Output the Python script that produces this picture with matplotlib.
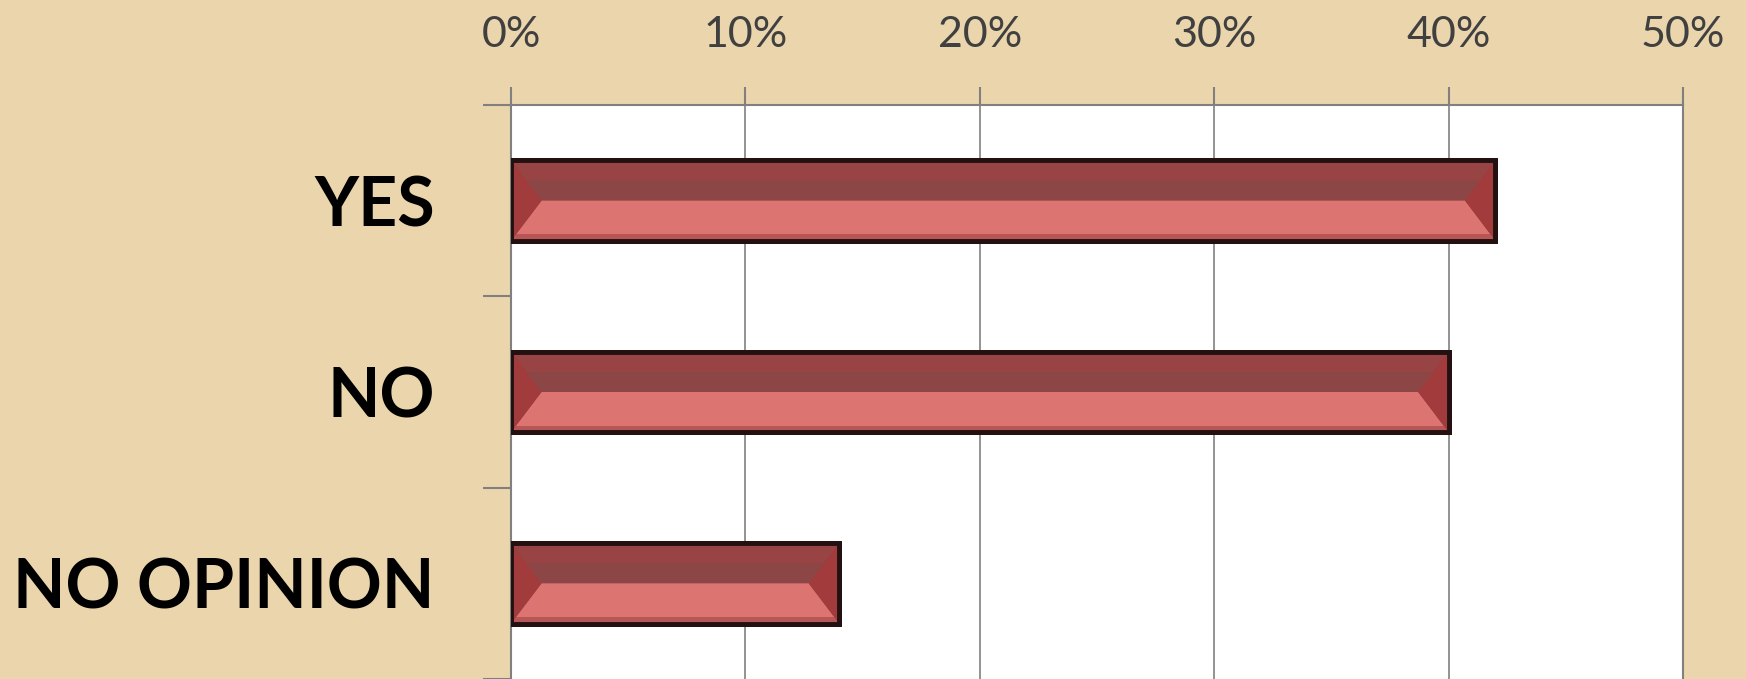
import numpy as np
import matplotlib
matplotlib.use("Agg")
import matplotlib.pyplot as plt
from matplotlib.patches import Polygon

categories = ["YES", "NO", "NO OPINION"]
values = [42, 40, 14]          # percent
xticks = [0, 10, 20, 30, 40, 50]

BG = "#EAD5AC"
DARK = "#8D4646"
TOPHI = "#984444"
LIGHT = "#DC7471"
SIDE = "#A23B3B"
EDGE = "#231010"

plt.rcParams["font.family"] = ["Lato", "DejaVu Sans"]

fig = plt.figure(figsize=(17.46, 6.79), dpi=100, facecolor=BG)
ax = fig.add_axes([0.2927, 0.0, 0.6712, 0.8454])
ax.set_facecolor("white")

h = 0.42
bw = 1.3   # bevel width in % units
for i, v in enumerate(values):
    y0, y1, ym = i - h / 2, i + h / 2, i
    ax.barh(i, v, height=h, color=DARK, edgecolor=EDGE, linewidth=3.5, zorder=3)
    # upper face, slightly lighter near the top edge
    ax.add_patch(Polygon([(0, y0), (v, y0), (v - bw * 0.5, y0 + h * 0.25), (bw * 0.5, y0 + h * 0.25)],
                         closed=True, fc=TOPHI, ec="none", zorder=4))
    # lower (lighter) face
    ax.add_patch(Polygon([(bw, ym), (v - bw, ym), (v, y1), (0, y1)],
                         closed=True, fc=LIGHT, ec="none", zorder=4))
    # thin shadow along the bottom edge
    ax.add_patch(Polygon([(0, y1 - h * 0.08), (v, y1 - h * 0.08), (v, y1), (0, y1)],
                         closed=True, fc="#B85555", ec="none", zorder=4))
    # side faces
    ax.add_patch(Polygon([(0, y0), (bw, ym), (0, y1)], closed=True, fc=SIDE, ec="none", zorder=4))
    ax.add_patch(Polygon([(v, y0), (v - bw, ym), (v, y1)], closed=True, fc=SIDE, ec="none", zorder=4))
    # redraw outline on top
    ax.barh(i, v, height=h, color="none", edgecolor=EDGE, linewidth=3.5, zorder=5)

ax.set_xlim(0, 50)
ax.set_ylim(2.5, -0.5)
ax.xaxis.tick_top()
ax.set_xticks(xticks)
ax.set_xticklabels([f"{t}%" for t in xticks], fontsize=31, color="#404040")
ax.tick_params(axis="x", length=13, width=1.5, color="#808080", pad=24)
ax.grid(axis="x", color="#8a8a8a", linewidth=1.3, zorder=1)

ax.set_yticks([-0.5, 0.5, 1.5, 2.5])
ax.set_yticklabels([])
ax.tick_params(axis="y", which="major", length=20, width=1.5, color="#808080")
ax.set_yticks(range(len(categories)), minor=True)
ax.set_yticklabels(categories, minor=True, fontsize=49, fontweight="bold", color="black")
ax.tick_params(axis="y", which="minor", length=0, pad=55)

for s in ["top", "left", "right"]:
    ax.spines[s].set_color("#808080")
    ax.spines[s].set_linewidth(1.5)
ax.spines["bottom"].set_visible(False)

fig.savefig("out.png", dpi=100, facecolor=BG)
